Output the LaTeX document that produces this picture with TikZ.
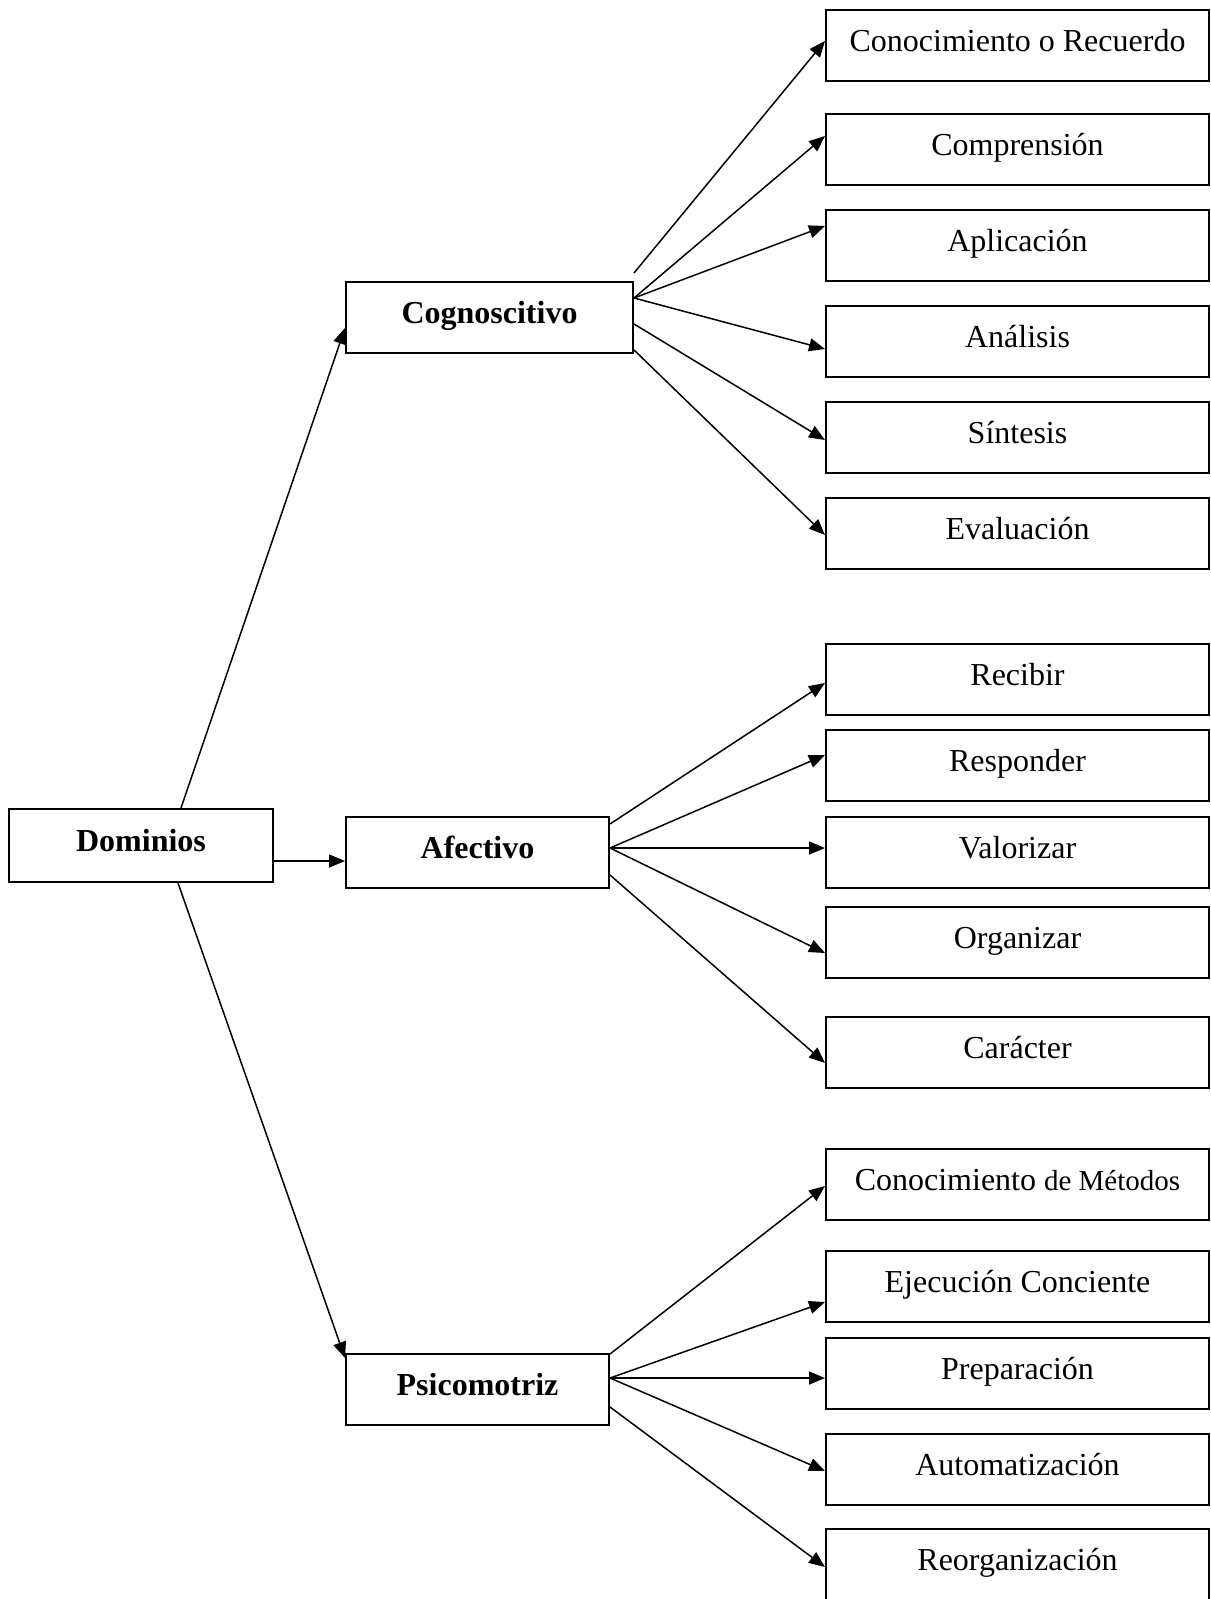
\documentclass[tikz,border=0pt]{standalone}
\usepackage{fontspec}
\setmainfont{Liberation Serif}
\usetikzlibrary{arrows.meta}

\begin{document}
\begin{tikzpicture}[x=0.5pt,y=-0.5pt,->,>={Triangle[length=8pt,width=6.5pt]},line width=0.75pt,
    box/.style={draw,line width=1pt,minimum width=191.5pt,minimum height=35.5pt,inner sep=0pt,
      font=\fontsize{16}{19}\selectfont,text height=12pt,text depth=6pt},
    dom/.style={box,font=\fontsize{16}{19}\selectfont\bfseries}]
  \useasboundingbox (0,0) rectangle (1210,1599);
  % dominios
  \node[dom,minimum width=132pt,minimum height=36.5pt] (dominios) at (141,845.5) {Dominios};
  \node[dom,minimum width=143.5pt] (cog) at (489.5,318) {Cognoscitivo};
  \node[dom,minimum width=131.5pt] (afe) at (477.5,852.5) {Afectivo};
  \node[dom,minimum width=131.5pt] (psi) at (477.5,1389.5) {Psicomotriz};
  % niveles
  \node[box] (rec1) at (1017.5,46) {Conocimiento o Recuerdo};
  \node[box] (compr) at (1017.5,150) {Comprensión};
  \node[box] (apl) at (1017.5,245.5) {Aplicación};
  \node[box] (ana) at (1017.5,341.5) {Análisis};
  \node[box] (sin) at (1017.5,437.5) {Síntesis};
  \node[box] (eva) at (1017.5,533) {Evaluación};
  \node[box] (reci) at (1017.5,679) {Recibir};
  \node[box] (resp) at (1017.5,765.5) {Responder};
  \node[box] (val) at (1017.5,852.5) {Valorizar};
  \node[box] (org) at (1017.5,942) {Organizar};
  \node[box] (car) at (1017.5,1052.5) {Carácter};
  \node[box] (met) at (1017.5,1184.5) {Conocimiento {\fontsize{14.5}{17}\selectfont de Métodos}};
  \node[box] (eje) at (1017.5,1286.5) {Ejecución Conciente};
  \node[box] (pre) at (1017.5,1373) {Preparación};
  \node[box] (aut) at (1017.5,1469) {Automatización};
  \node[box] (reo) at (1017.5,1564) {Reorganización};
  % flechas
  \draw ([xshift=20pt]dominios.north) -- ([yshift=-5pt]cog.west);
  \draw ([yshift=-7.75pt]dominios.east) -- ([yshift=-7.75pt]dominios.east -| afe.west);
  \draw ([xshift=18.5pt]dominios.south) -- ([yshift=15.75pt]psi.west);
  \draw ([yshift=22.5pt]cog.east) -- ([yshift=2.5pt]rec1.west);
  \draw ([yshift=10pt]cog.east) -- ([yshift=7pt]compr.west);
  \draw ([yshift=10pt]cog.east) -- ([yshift=9.75pt]apl.west);
  \draw ([yshift=10pt]cog.east) -- ([yshift=-3.75pt]ana.west);
  \draw ([yshift=-3pt]cog.east) -- ([yshift=-1.25pt]sin.west);
  \draw ([yshift=-16pt]cog.east) -- ([yshift=-1pt]eva.west);
  \draw ([yshift=14.25pt]afe.east) -- ([yshift=-2pt]reci.west);
  \draw ([yshift=2.25pt]afe.east) -- ([yshift=5.25pt]resp.west);
  \draw ([yshift=2.25pt]afe.east) -- ([yshift=2.25pt]val.west);
  \draw ([yshift=2.25pt]afe.east) -- ([yshift=-5.5pt]org.west);
  \draw ([yshift=-11.25pt]afe.east) -- ([yshift=-5.25pt]car.west);
  \draw ([yshift=17.75pt]psi.east) -- ([yshift=-0.75pt]met.west);
  \draw ([yshift=5.75pt]psi.east) -- ([yshift=-7.75pt]eje.west);
  \draw ([yshift=5.75pt]psi.east) -- ([yshift=-2.5pt]pre.west);
  \draw ([yshift=5.75pt]psi.east) -- ([yshift=-1pt]aut.west);
  \draw ([yshift=-8.75pt]psi.east) -- ([yshift=-1.5pt]reo.west);
\end{tikzpicture}
\end{document}
